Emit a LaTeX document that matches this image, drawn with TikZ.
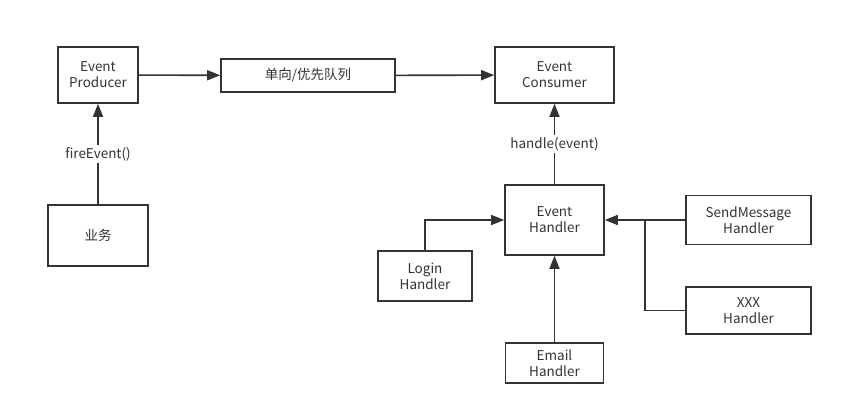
\documentclass[tikz,border=0pt]{standalone}
\usepackage{fontspec}
\setmainfont{Noto Sans CJK SC}
\usetikzlibrary{arrows.meta}

\begin{document}
\begin{tikzpicture}[x=1pt, y=-1pt, line width=1.6pt, color={black!80},
    box/.style={draw, align=center, inner sep=0pt, font=\fontsize{13.5}{16}\selectfont},
    lbl/.style={fill=white, inner sep=2pt, font=\fontsize{13.5}{16}\selectfont},
    arr/.style={-{Triangle[length=13pt, width=10pt]}}]
            \useasboundingbox (0,0) rectangle (843,415);
            \node[box, minimum width=80pt, minimum height=56pt] (prod) at (98,75) {Event\\Producer};
            \node[box, minimum width=174pt, minimum height=33pt] (queue) at (308,75.5) {单向/优先队列};
            \node[box, minimum width=119pt, minimum height=56pt] (cons) at (554.5,75) {Event\\Consumer};
            \node[box, minimum width=100pt, minimum height=61pt] (biz) at (98,235.5) {业务};
            \node[box, minimum width=99pt, minimum height=70pt] (hdl) at (554.5,220) {Event\\Handler};
            \node[box, minimum width=94pt, minimum height=50pt] (login) at (425,276) {Login\\Handler};
            \node[box, minimum width=98pt, minimum height=40pt] (email) at (554.5,363) {Email\\Handler};
            \node[box, minimum width=125pt, minimum height=49pt] (send) at (748.5,220) {SendMessage\\Handler};
            \node[box, minimum width=125pt, minimum height=47pt] (xxx) at (748.5,310.5) {XXX\\Handler};
            \coordinate (join) at (645,220);
            \draw[arr] (prod) -- (queue);
            \draw[arr] (queue) -- (cons);
            \draw[arr] (biz) -- node[lbl, pos=0.5] {fireEvent()} (prod);
            \draw[arr] (hdl) -- node[lbl, pos=0.5] {handle(event)} (cons);
            \draw[arr] (login.north) |- (hdl.west);
            \draw[arr] (email) -- (hdl);
            \draw[arr] (send.west) -- (hdl.east);
            \draw (xxx.west) -| (join);
        \end{tikzpicture}
\end{document}
